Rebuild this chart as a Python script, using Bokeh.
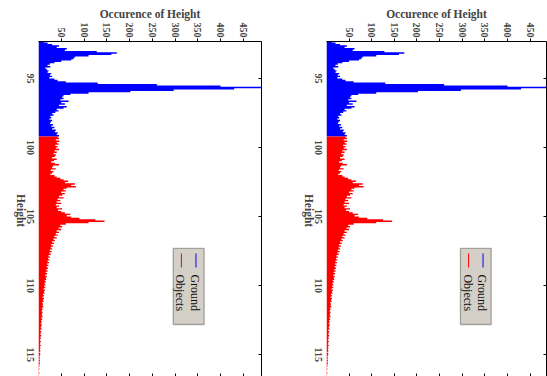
import math
import numpy as np
from bokeh.plotting import figure
from bokeh.models import (Range1d, LinearAxis, FixedTicker, BoxAnnotation, Label,
                          CustomJSTickFormatter)
from bokeh.layouts import row
from bokeh.embed import file_html
from bokeh.resources import INLINE

# ---------------- data ----------------
BIN_START = 92.3      # first bin (Height)
BIN_WIDTH = 0.1

ground_counts = [
    12, 20, 30, 45, 40, 62, 58, 128, 172, 160,
    110, 80, 77, 72, 50, 35, 25, 20, 26, 15,
    18, 22, 20, 28, 25, 30, 24, 35, 42, 60,
    130, 260, 400, 489, 430, 297, 202, 110, 70, 55,
    52, 55, 48, 66, 50, 58, 45, 62, 55, 40,
    44, 37, 30, 33, 26, 28, 24, 30, 27, 25,
    32, 28, 35, 30, 38, 36, 42, 40, 45,
]
object_counts = [
    42, 45, 38, 46, 40, 44, 37, 42, 38, 45,
    35, 40, 33, 38, 36, 30, 40, 34, 28, 36,
    45, 32, 30, 38, 27, 33, 30, 26, 35, 40,
    48, 55, 65, 58, 80, 72, 82, 62, 55, 60,
    50, 58, 52, 45, 55, 42, 48, 40, 50, 38,
    45, 40, 52, 43, 50, 58, 70, 62, 72, 90,
    125, 145, 110, 60, 48, 52, 44, 50, 40, 45,
    38, 42, 35, 40, 33, 36, 30, 34, 28, 32,
    27, 30, 25, 29, 24, 27, 22, 25, 21, 24,
    20, 23, 19, 22, 18, 21, 17, 20, 16, 19,
    15, 18, 16, 17, 14, 16, 13, 15, 12, 15,
    11, 14, 12, 13, 10, 12, 9, 12, 10, 11,
    8, 10, 9, 11, 8, 9, 7, 9, 8, 7,
    9, 6, 8, 6, 7, 5, 7, 6, 5, 7,
    4, 6, 5, 4, 6, 4, 5, 3, 5, 4,
    3, 5, 3, 4, 3, 4, 2, 4, 3, 2,
    3, 2, 3, 2, 3, 2, 2, 1, 2, 1,
    1, 2, 1, 1,
]
series_names = ["Ground", "Objects"]
series_colors = ["#0000ff", "#ff0000"]
height_ticks = [95, 100, 105, 110, 115]
count_ticks = [50, 100, 150, 200, 250, 300, 350, 400, 450]
HEIGHT_TITLE = "Height"
HEIGHT_TITLE_CENTER = 104.57

# ---------------- layout constants ----------------
HEIGHT_TOP, HEIGHT_BOTTOM = 92.32, 116.6
FRAME_H = 335
PX_PER_UNIT = FRAME_H / (HEIGHT_BOTTOM - HEIGHT_TOP)
FONT = "Liberation Serif"
TICK_PX = 10
TITLE_PX = 11.5
# Bokeh right-aligns rotated left-axis labels at the tick; move each anchor by
# half of the label's length so the label is centred on its tick.
BOLD_WIDTH_EM = {"H": 0.778, "e": 0.444, "i": 0.278, "g": 0.5, "h": 0.556, "t": 0.333}


def text_len_px(s, size):
    return size * sum(BOLD_WIDTH_EM.get(c, 0.5) for c in s)


def centred_anchor(v, s, size):
    return round(v + text_len_px(s, size) / 2 / PX_PER_UNIT, 4)


def step_outline(counts, start):
    """Histogram outline (Height, count) pairs built from the bin counts."""
    n = np.asarray(counts, dtype=float)
    lo = start + BIN_WIDTH * np.arange(len(n))
    hi = lo + BIN_WIDTH
    ys = np.concatenate([[lo[0]], np.column_stack([lo, hi]).ravel(), [hi[-1]]])
    xs = np.concatenate([[0.0], np.repeat(n, 2), [0.0]])
    return xs, ys


ground_xy = step_outline(ground_counts, BIN_START)
object_xy = step_outline(object_counts, BIN_START + BIN_WIDTH * len(ground_counts))

blank = CustomJSTickFormatter(code="return ''")
left_anchor = {centred_anchor(v, str(v), TICK_PX): str(v) for v in height_ticks}
title_anchor = {centred_anchor(HEIGHT_TITLE_CENTER, HEIGHT_TITLE, TITLE_PX): HEIGHT_TITLE}


def make_panel(frame_w, border_left, border_right, xmax):
    p = figure(frame_width=frame_w, frame_height=FRAME_H,
               min_border_left=border_left, min_border_right=border_right,
               min_border_top=41, min_border_bottom=0,
               x_range=Range1d(0, xmax), y_range=Range1d(HEIGHT_BOTTOM, HEIGHT_TOP),
               x_axis_location="above", y_axis_location="left",
               output_backend="svg", toolbar_location=None)
    p.outline_line_color = None
    p.grid.visible = False
    p.background_fill_color = "white"
    p.border_fill_color = "white"

    for (xs, ys), col in zip([ground_xy, object_xy], series_colors):
        p.patch(x=xs, y=ys, fill_color=col, line_color=None)

    # top axis (occurrence)
    xa = p.xaxis[0]
    xa.ticker = FixedTicker(ticks=count_ticks)
    xa.major_label_orientation = -math.pi / 2
    xa.major_tick_out = 3
    xa.major_tick_in = 0
    xa.minor_tick_out = 0
    xa.minor_tick_in = 0
    xa.major_label_standoff = 1
    xa.axis_label = "Occurence of Height"
    xa.axis_label_standoff = 0
    xa.axis_label_text_font = FONT
    xa.axis_label_text_font_style = "bold"
    xa.axis_label_text_font_size = f"{TITLE_PX}px"
    xa.major_label_text_font = FONT
    xa.major_label_text_font_style = "bold"
    xa.major_label_text_font_size = f"{TICK_PX}px"
    xa.axis_line_color = "black"
    xa.major_tick_line_color = "black"

    # left axis (height) - labels only, centred on the tick values
    ya = p.yaxis[0]
    ya.ticker = FixedTicker(ticks=list(left_anchor.keys()))
    ya.major_label_overrides = left_anchor
    ya.major_label_orientation = -math.pi / 2
    ya.major_tick_in = 0
    ya.major_tick_out = 0
    ya.minor_tick_out = 0
    ya.minor_tick_in = 0
    ya.major_label_standoff = 8
    ya.major_label_text_font = FONT
    ya.major_label_text_font_style = "bold"
    ya.major_label_text_font_size = f"{TICK_PX}px"
    ya.axis_line_color = None

    # "Height" title of the vertical axis, read top-to-bottom like the source
    ha = LinearAxis(ticker=FixedTicker(ticks=list(title_anchor.keys())),
                    major_label_overrides=title_anchor,
                    major_label_orientation=-math.pi / 2,
                    major_tick_in=0, major_tick_out=0, minor_tick_in=0, minor_tick_out=0,
                    major_label_standoff=0, axis_line_color=None,
                    major_label_text_font=FONT, major_label_text_font_style="bold",
                    major_label_text_font_size=f"{TITLE_PX}px")
    p.add_layout(ha, "left")

    # mirrored tick-only axes
    ra = LinearAxis(ticker=FixedTicker(ticks=height_ticks), formatter=blank,
                    major_tick_in=3, major_tick_out=0, minor_tick_in=0, minor_tick_out=0,
                    major_label_standoff=0, major_label_text_font_size="0px",
                    axis_line_color="black")
    p.add_layout(ra, "right")
    ba = LinearAxis(ticker=FixedTicker(ticks=count_ticks), formatter=blank,
                    major_tick_in=3, major_tick_out=0, minor_tick_in=0, minor_tick_out=0,
                    major_label_standoff=0, major_label_text_font_size="0px",
                    axis_line_color=None)
    p.add_layout(ba, "below")

    # legend (drawn rotated, like the source)
    p.add_layout(BoxAnnotation(left=296, right=364, top=107.32, bottom=112.83,
                               fill_color="#d4d0c8", fill_alpha=1.0,
                               line_color="black", line_width=1.3, level="annotation"))
    legend_x = [344, 312]
    for name, col, lx in zip(series_names, series_colors, legend_x):
        p.segment(x0=[lx + 2], y0=[107.68], x1=[lx + 2], y1=[108.70],
                  line_color=col, line_width=1, level="overlay")
        p.add_layout(Label(x=lx, y=109.2, text=name, angle=-math.pi / 2,
                           text_align="left", text_baseline="middle", text_font=FONT,
                           text_font_size="12px", text_color="#111111", level="overlay"))
    return p


p1 = make_panel(223, 38, 32, 490)
p2 = make_panel(220, 33, 1, 486.2)
layout = row(p1, p2)

open("out.html", "w").write(file_html(layout, INLINE))
